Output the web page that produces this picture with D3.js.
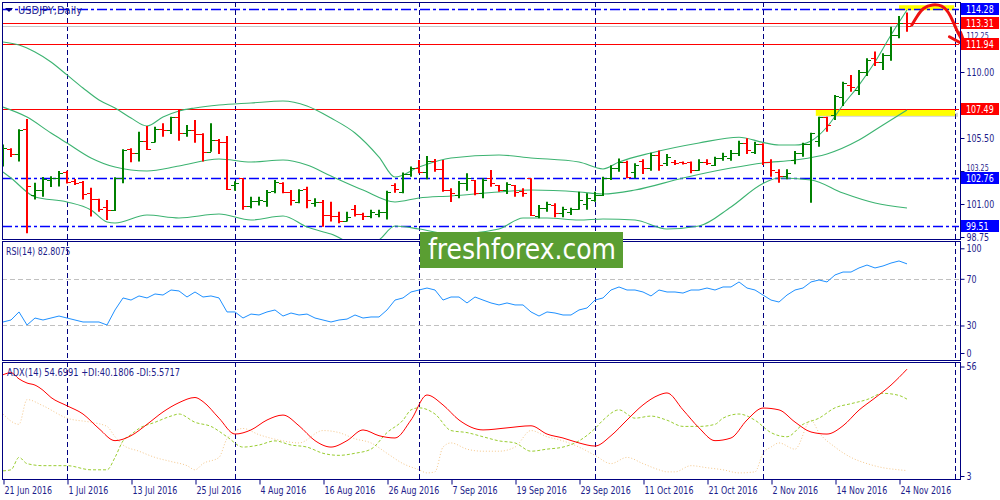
<!DOCTYPE html>
<html><head><meta charset="utf-8">
<script src="https://cdn.jsdelivr.net/npm/d3@7/dist/d3.min.js"></script>
<style>
body{margin:0;background:#fff;overflow:hidden}
svg{display:block}
text{font-family:"DejaVu Sans Condensed","DejaVu Sans","Liberation Sans",sans-serif;}
</style></head>
<body><svg id="chart" width="1000" height="500"></svg>
<script>
// ---------- DATA ----------
const symbolTitle = "USDJPY,Daily";
const opens  = [103.9,104.75,104.4,106.1,101.6,101.95,102.64,102.77,103.15,102.55,102.5,101.73,101.32,100.8,100.6,102.75,104.75,104.46,105.3,105.25,106.1,106.05,106.9,105.82,106.05,105.77,104.57,105.36,105.2,102.3,102.75,100.87,101.2,101.2,101.9,102.41,101.84,101.16,102.0,101.09,101.16,100.25,100.2,99.84,100.64,100.32,100.18,100.3,100.48,102.3,101.84,103.05,103.46,103.18,103.95,103.37,101.96,101.6,102.45,102.64,101.77,102.75,102.3,101.95,102.3,101.9,102.75,100.2,100.71,100.93,100.37,100.45,100.64,101.0,101.27,101.6,102.8,103.43,103.89,103.2,103.9,103.43,104.34,103.8,103.89,103.85,103.85,103.32,103.89,103.66,104.11,104.11,104.5,105.18,104.55,105.09,103.89,103.2,102.91,104.0,104.5,105.1,105.3,106.9,107.07,108.32,109.14,108.77,110.02,110.93,110.7,111.16,112.52,113.32];
const highs  = [105.05,104.8,106.1,106.8,102.45,102.84,102.9,103.25,103.27,102.7,102.57,102.1,101.36,101.27,102.82,104.73,104.8,105.93,106.32,106.27,106.5,106.95,107.47,106.39,106.73,105.82,106.5,105.43,105.64,102.55,102.75,101.5,101.5,101.96,102.64,102.48,101.96,102.0,102.18,101.39,101.27,101.16,100.48,100.48,100.93,100.41,100.6,100.6,101.9,102.41,103.14,103.55,104.0,104.27,104.07,104.0,102.07,102.57,103.09,102.64,102.75,103.32,102.3,102.48,102.3,102.07,102.75,100.93,101.16,101.05,100.82,100.75,101.84,101.73,101.84,102.86,103.64,104.11,103.95,103.78,104.05,104.5,104.64,104.41,104.0,103.9,103.89,104.05,104.05,104.23,104.5,104.68,105.32,105.48,105.25,105.14,104.05,103.37,103.37,104.61,105.18,105.86,106.95,106.95,108.43,109.34,109.8,110.14,110.93,111.39,111.27,113.09,113.82,114.05];
const lows   = [103.55,104.2,103.9,99.0,101.3,101.5,102.16,102.2,102.4,102.3,101.3,100.14,100.48,99.91,100.52,102.41,103.85,103.89,104.68,105.2,105.59,105.77,105.32,105.59,105.18,103.89,104.57,104.41,101.95,101.91,100.6,100.71,100.9,100.82,101.73,101.73,100.9,101.05,100.71,100.82,99.45,99.8,99.69,99.8,100.14,99.91,100.03,100.1,99.95,101.77,101.73,102.86,103.1,102.68,103.2,101.84,101.13,101.39,101.91,101.6,101.39,102.18,101.84,101.68,101.5,101.5,100.18,100.03,100.48,100.1,100.1,100.25,100.6,100.6,101.16,101.55,102.64,103.2,102.75,102.75,103.05,103.27,103.27,103.59,103.66,103.7,103.09,103.27,103.66,103.59,103.95,103.95,104.27,104.41,104.41,103.66,102.86,102.45,102.68,103.71,104.23,101.09,104.91,105.93,106.73,107.68,108.66,108.43,109.73,110.41,110.14,110.77,112.3,112.75];
const closes = [104.8,104.4,106.05,102.2,101.95,102.7,102.77,103.1,102.5,102.45,101.7,101.32,100.64,100.6,102.75,104.68,104.46,105.3,104.77,106.1,106.05,106.9,105.82,106.05,105.77,104.57,105.36,105.2,102.0,102.41,100.87,101.2,101.25,101.84,102.52,101.84,101.27,101.96,101.27,101.16,100.25,100.18,99.84,100.14,100.32,100.18,100.48,100.48,101.84,102.0,103.05,103.46,103.18,103.95,103.37,101.96,101.73,102.45,102.75,101.77,102.64,102.41,101.95,102.35,101.84,101.73,100.25,100.71,101.0,100.37,100.64,100.64,101.27,101.39,101.6,102.8,103.43,103.89,102.86,103.66,103.43,104.34,103.66,104.18,103.78,103.78,103.32,103.89,103.78,104.11,104.27,104.5,105.18,104.68,105.09,103.89,103.32,102.91,103.09,104.5,105.09,105.82,106.9,106.39,108.36,109.23,108.96,110.02,110.82,110.7,111.16,112.52,113.32,113.14];

// Bollinger Bands (20,2): [bar index, price]
const bbUpper  = [[0,112.05],[2,111.84],[4,111.36],[6,110.68],[8,109.8],[10,108.91],[12,108.09],[14,107.55],[16,106.86],[18,106.32],[20,106.93],[22,107.34],[24,107.55],[27,107.75],[31,107.89],[35,108.02],[38,107.68],[41,106.86],[44,105.84],[47,104.2],[49,102.84],[52,103.52],[56,104.14],[62,104.34],[66,104.14],[72,103.86],[75,103.39],[77,103.86],[81,104.48],[87,105.16],[92,105.55],[95,105.2],[97,105.02],[99,105.02],[101,105.3],[103,106.25],[105,107.75],[107,109.11],[109,110.68],[111,112.52],[113,114.23]];
const bbMiddle = [[0,107.61],[3,106.93],[6,105.84],[8,105.16],[11,104.14],[14,103.52],[18,103.25],[22,103.59],[27,104.07],[31,103.86],[35,104.0],[38,103.66],[41,102.91],[45,101.95],[49,101.14],[52,101.41],[56,101.55],[62,101.82],[66,101.95],[72,101.82],[75,101.68],[79,101.95],[85,102.77],[91,103.45],[95,103.8],[99,104.0],[103,104.41],[107,105.36],[110,106.39],[113,107.41]];
const bbLower  = [[0,103.18],[1,102.77],[4,101.48],[8,101.14],[11,100.59],[13,99.77],[14,99.7],[18,100.25],[22,100.05],[27,100.32],[31,99.91],[35,100.18],[38,99.43],[41,98.95],[45,98.07],[47,98.55],[49,99.5],[52,99.3],[56,98.95],[62,99.3],[65,100.05],[68,100.05],[72,99.91],[75,99.98],[79,99.91],[83,99.3],[87,99.5],[91,100.8],[95,102.4],[97,102.77],[101,102.64],[105,101.75],[109,101.07],[113,100.73]];

// RSI(14): [bar index, value]
const rsiValues = [[0,33],[1,34.7],[2,41.6],[3,30.4],[4,36.4],[5,34.7],[6,36.4],[7,38.1],[8,36.4],[9,34.7],[10,33],[11,33],[12,33],[13,30.4],[14,43.3],[15,53.6],[16,51.8],[17,55.3],[18,53.6],[19,57],[20,56.1],[21,60.4],[22,59.6],[23,54.4],[24,58.7],[25,54.4],[26,55.3],[27,53.6],[28,41.6],[29,41.6],[30,36.4],[31,39.8],[32,39],[33,41.6],[34,43.3],[35,38.1],[36,40.7],[37,39],[38,39.8],[39,36.4],[40,34.7],[41,33],[42,34.7],[43,35.5],[44,39],[45,36.4],[46,37.3],[47,37.3],[48,43.3],[49,51.8],[50,53.6],[51,58.7],[52,60.4],[53,62.1],[54,60.4],[55,51.8],[56,54.4],[57,54.4],[58,49.3],[59,54.4],[60,51.8],[61,49.3],[62,47.6],[63,49.3],[64,47.6],[65,47.6],[66,41.6],[67,38.1],[68,41.6],[69,40.7],[70,39],[71,39],[72,43.3],[73,45],[74,51.8],[75,53.6],[76,60.4],[77,63],[78,60.4],[79,60.4],[80,58.7],[81,55.3],[82,60.4],[83,58.7],[84,58.7],[85,57.8],[86,60.4],[87,60.4],[88,62.1],[89,60.4],[90,63],[91,63],[92,67.3],[93,62.1],[94,60.4],[95,56.1],[96,51.8],[97,50.1],[98,56.1],[99,60.4],[100,62.1],[101,67.3],[102,69],[103,67.3],[104,73.3],[105,75.8],[106,75.8],[107,79.3],[108,81.8],[109,79.3],[110,81],[111,83.5],[112,85.3],[113,82.8]];

// ADX(14), +DI, -DI: [bar index, value]
const adxValues = [[0,52],[1,53],[2,50],[3,48],[4,47],[5,44.5],[6,41],[8,37],[10,33],[12,25.9],[14,20.1],[16,22.5],[18,28],[20,34],[22,38.5],[24,41],[25,39],[27,31],[29,23.3],[31,25.3],[33,30.1],[35,32.5],[37,27.3],[39,20.1],[41,17],[43,20.1],[45,25.3],[47,22.5],[49,21.4],[51,30.1],[53,42.2],[55,37.4],[57,30.1],[60,25.3],[63,26.3],[66,27.3],[68,23.3],[70,21.4],[72,19],[74,17.5],[76,22.5],[78,30.1],[80,37.4],[82,42.2],[83,43.2],[85,35],[87,26.3],[89,20.1],[91,21.4],[93,30.1],[95,35.9],[97,35],[99,29.1],[101,24.3],[103,23.3],[105,27.3],[107,34.9],[109,40.8],[111,47],[113,54.7]];
const plusDI = [[0,5.5],[1,6],[2,12],[3,9],[5,8],[8,8],[11,6],[13,6],[14,12],[15,20],[16,23],[17,26],[19,29],[21,32],[22,33],[24,29],[26,27],[28,22],[30,17],[32,18],[34,20],[36,18],[38,17],[40,14],[42,13],[44,14],[46,16],[48,24],[50,30],[51,35],[52,36],[54,33],[56,25],[58,24],[60,22],[62,20],[64,19],[66,15],[68,16],[70,17],[72,20],[74,26],[75,30],[77,35],[79,31],[81,32],[83,30],[85,27],[87,27],[89,28],[90,31],[92,33],[94,30],[96,24],[98,22],[100,28],[102,31],[104,36],[106,38],[108,40],[110,43],[112,42],[113,40.2]];
const minusDI = [[0,33],[2,28],[3,40],[5,37],[8,31],[11,29],[13,27],[14,22],[15,18],[17,15],[19,12],[21,10],[23,8],[24,6],[25,9],[27,12],[28,21],[30,26],[32,23],[35,20],[37,19],[40,25],[42,24],[44,21],[46,19],[48,14],[50,9],[52,6],[53,4.5],[54,5],[55,17],[56,19],[58,16],[60,15],[62,15],[64,17],[66,25],[68,22],[70,20],[72,17],[74,13],[76,9],[78,12],[80,9],[82,6],[83,5],[84,5],[86,8],[88,7],[90,6],[92,4.5],[94,5],[95,14],[96,17],[97,19],[99,16],[101,30],[102,24],[104,17],[106,12],[108,9],[110,7],[112,6],[113,5.6]];

const tickBars   = [0,8,16,24,32,40,48,56,64,72,80,88,96,104,112];
const tickLabels = ["21 Jun 2016","1 Jul 2016","13 Jul 2016","25 Jul 2016","4 Aug 2016","16 Aug 2016","26 Aug 2016","7 Sep 2016","19 Sep 2016","29 Sep 2016","11 Oct 2016","21 Oct 2016","2 Nov 2016","14 Nov 2016","24 Nov 2016"];
const separatorBars = [8,29,52,74,95,119];
const priceTicks = [98.75,101.00,103.25,105.50,107.75,110.00,112.25,114.50];
const hiddenPriceLabels = [114.50,107.75];
const tuckedPriceLabels = [112.25,103.25];
const redLevels  = [113.31,111.94,107.49];
const blueLevels = [114.28,102.76,99.51];
const rsiTicks = [100,70,30,0];
const rsiLevels = [70,30];
const adxTicks = [56,3];
const rsiLabel = "RSI(14) 82.8075";
const adxLabel = "ADX(14) 54.6991 +DI:40.1806 -DI:5.5717";
const watermark = "freshforex.com";

// ---------- LAYOUT ----------
const svg = d3.select("#chart");
const L = 2, R = 960;
const main = {top:2, bottom:239};
const rsiP = {top:241, bottom:360};
const adxP = {top:362, bottom:479};
const navy = "#000080";
const txtCol = "#1c1c8a";
const fs = 10;

function squeeze(sel, k){ sel.each(function(){ const w=this.getComputedTextLength(); d3.select(this).attr("textLength",w*k).attr("lengthAdjust","spacingAndGlyphs"); }); }

const x = d3.scaleLinear().domain([0,119.375]).range([3,958]);
const y = d3.scaleLinear().domain([110,101]).range([72,204]);
const yR = d3.scaleLinear().domain([0,100]).range([360.5,243.8]);
const yA = d3.scaleLinear().domain([3,56]).range([476,366.5]);

const defs = svg.append("defs");
function clip(id, p){ defs.append("clipPath").attr("id",id).append("rect").attr("x",L+1).attr("y",p.top+1).attr("width",R-L-2).attr("height",p.bottom-p.top-1); }
clip("cm",main); clip("cr",rsiP); clip("ca",adxP);

// period separators
const sepG = svg.append("g");
[main,rsiP,adxP].forEach(p=>{
  sepG.selectAll(null).data(separatorBars).enter().append("line")
    .attr("x1",d=>Math.round(x(d))+0.5).attr("x2",d=>Math.round(x(d))+0.5)
    .attr("y1",p.top).attr("y2",p.bottom)
    .attr("stroke",navy).attr("stroke-width",1).attr("stroke-dasharray","5,3");
});

// ---------- MAIN PANEL ----------
const gm = svg.append("g").attr("clip-path","url(#cm)");
gm.append("rect").attr("x",x(101.6)+3).attr("y",y(107.49)+4).attr("width",x(119)-x(101.6)).attr("height",4).attr("fill","#888").attr("opacity",0.35);
gm.append("rect").attr("x",x(101.6)).attr("y",y(107.49)+1).attr("width",x(119)-x(101.6)).attr("height",6).attr("fill","#ffff00");
gm.append("rect").attr("x",x(112)).attr("y",y(114.28)-4).attr("width",x(118.9)-x(112)).attr("height",5).attr("fill","#ffff00");

const bidY = Math.round(y(closes[closes.length-1]))+0.5;
gm.append("line").attr("x1",L).attr("x2",R).attr("y1",bidY).attr("y2",bidY).attr("stroke","#c8c8c8").attr("stroke-width",1);

redLevels.forEach(v=>{
  gm.append("line").attr("x1",L).attr("x2",R).attr("y1",Math.round(y(v))+0.5).attr("y2",Math.round(y(v))+0.5)
    .attr("stroke","#ff0000").attr("stroke-width",1.2);
});
blueLevels.forEach(v=>{
  gm.append("line").attr("x1",L).attr("x2",R).attr("y1",Math.round(y(v))+0.5).attr("y2",Math.round(y(v))+0.5)
    .attr("stroke","#0000ff").attr("stroke-width",1.6).attr("stroke-dasharray","10,3,3,3");
});

const pline = d3.line().x(d=>x(d[0])).y(d=>y(d[1])).curve(d3.curveMonotoneX);
[bbUpper,bbMiddle,bbLower].forEach(s=>{
  gm.append("path").attr("d",pline(s)).attr("fill","none").attr("stroke","#3cb371").attr("stroke-width",1.1);
});

const bars = gm.append("g");
opens.forEach((o,i)=>{
  const c = closes[i], col = c>=o ? "#008000" : "#ff0000";
  const xi = Math.round(x(i));
  bars.append("line").attr("x1",xi).attr("x2",xi).attr("y1",y(highs[i])).attr("y2",y(lows[i]))
    .attr("stroke",col).attr("stroke-width",2);
  bars.append("line").attr("x1",xi-4).attr("x2",xi).attr("y1",Math.round(y(o))+0.5).attr("y2",Math.round(y(o))+0.5)
    .attr("stroke",col).attr("stroke-width",1);
  bars.append("line").attr("x1",xi).attr("x2",xi+4).attr("y1",Math.round(y(c))+0.5).attr("y2",Math.round(y(c))+0.5)
    .attr("stroke",col).attr("stroke-width",1);
});

// hand-drawn arrow
const arrow = [[113.6,113.2],[114.2,113.75],[115.0,114.4],[116.2,114.62],[117.4,114.55],[118.2,114.1],[118.8,113.4],[119.4,112.6],[120.2,111.9]];
svg.append("path").attr("d",d3.line().x(d=>x(d[0])).y(d=>y(d[1])).curve(d3.curveBasis)(arrow))
  .attr("fill","none").attr("stroke","#ee1111").attr("stroke-width",3).attr("stroke-linecap","round");
svg.append("path").attr("d",`M${x(118.3)},${y(112.4)} L${x(120.3)},${y(111.8)} L${x(119.7)},${y(112.7)}`)
  .attr("fill","none").attr("stroke","#ee1111").attr("stroke-width",3).attr("stroke-linecap","round").attr("stroke-linejoin","round");

svg.append("path").attr("d","M5,8 L13,8 L9,12 Z").attr("fill",navy);
svg.append("text").attr("x",18).attr("y",14).attr("font-size",fs+1).attr("fill",txtCol).text(symbolTitle);

// ---------- RSI PANEL ----------
const gr = svg.append("g").attr("clip-path","url(#cr)");
rsiLevels.forEach(v=>{
  gr.append("line").attr("x1",L).attr("x2",R).attr("y1",Math.round(yR(v))+0.5).attr("y2",Math.round(yR(v))+0.5)
    .attr("stroke","#c0c0c0").attr("stroke-dasharray","5,3");
});
gr.append("path").attr("d",d3.line().x(d=>x(d[0])).y(d=>yR(d[1]))(rsiValues))
  .attr("fill","none").attr("stroke","#1e90ff").attr("stroke-width",1);
svg.append("text").attr("x",6).attr("y",255).attr("font-size",fs).attr("fill",txtCol).text(rsiLabel).call(squeeze,0.88);

// ---------- ADX PANEL ----------
const ga = svg.append("g").attr("clip-path","url(#ca)");
const aline = d3.line().x(d=>x(d[0])).y(d=>yA(d[1])).curve(d3.curveMonotoneX);
ga.append("path").attr("d",aline(minusDI)).attr("fill","none").attr("stroke","#f5c88c").attr("stroke-width",1).attr("stroke-dasharray","1,2");
ga.append("path").attr("d",aline(plusDI)).attr("fill","none").attr("stroke","#9acd32").attr("stroke-width",1).attr("stroke-dasharray","3,2");
ga.append("path").attr("d",aline(adxValues)).attr("fill","none").attr("stroke","#ff0000").attr("stroke-width",1);
svg.append("text").attr("x",7).attr("y",376).attr("font-size",fs).attr("fill",txtCol).text(adxLabel).call(squeeze,0.92);

// ---------- FRAMES ----------
[main,rsiP,adxP].forEach(p=>{
  svg.append("rect").attr("x",L+0.5).attr("y",p.top+0.5).attr("width",R-L).attr("height",p.bottom-p.top)
    .attr("fill","none").attr("stroke",navy).attr("stroke-width",1);
});

// ---------- AXES ----------
function styleAxis(g){
  g.select(".domain").remove();
  g.selectAll("line").attr("stroke",navy);
  g.selectAll("text").attr("fill",txtCol).attr("font-size",fs).attr("font-family",null);
}
const pa = svg.append("g").attr("transform",`translate(${R+0.5},0)`)
  .call(d3.axisRight(y).tickValues(priceTicks).tickFormat(d3.format(".2f")).tickSize(4).tickPadding(2));
styleAxis(pa);
pa.selectAll(".tick").filter(d=>d>y.invert(main.top)).remove();
pa.selectAll(".tick").filter(d=>hiddenPriceLabels.includes(d)).select("text").remove();
pa.selectAll(".tick").filter(d=>tuckedPriceLabels.includes(d)).select("text")
  .attr("font-size",8).attr("dy",null).attr("y",-1);
pa.selectAll("text").call(squeeze,0.88);

function levelLabel(v,col){
  const yy = Math.round(y(v));
  svg.append("rect").attr("x",R+1).attr("y",yy-6).attr("width",38).attr("height",12).attr("fill",col);
  svg.append("text").attr("x",R+6).attr("y",yy+4).attr("font-size",fs).attr("fill","#fff").text(v.toFixed(2)).call(squeeze,0.88);
}
blueLevels.forEach(v=>levelLabel(v,"#0000ff"));
redLevels.forEach(v=>levelLabel(v,"#ff0000"));

const ra = svg.append("g").attr("transform",`translate(${R+0.5},0)`)
  .call(d3.axisRight(yR).tickValues(rsiTicks).tickSize(4).tickPadding(2));
styleAxis(ra);
ra.selectAll(".tick").filter(d=>d===100).attr("transform",`translate(0,${yR(100)+5})`);
ra.selectAll(".tick").filter(d=>d===0).attr("transform",`translate(0,${yR(0)-7})`);
ra.selectAll("text").call(squeeze,0.88);

const aa = svg.append("g").attr("transform",`translate(${R+0.5},0)`)
  .call(d3.axisRight(yA).tickValues(adxTicks).tickSize(4).tickPadding(2));
styleAxis(aa);
aa.selectAll("text").call(squeeze,0.88);

const ta = svg.append("g").attr("transform",`translate(0,${adxP.bottom+0.5})`)
  .call(d3.axisBottom(x).tickValues(tickBars).tickFormat((d,i)=>tickLabels[i]).tickSize(5).tickPadding(2));
styleAxis(ta);
ta.selectAll("line").attr("transform","translate(0.5,0)");
ta.selectAll("text").attr("text-anchor","start").attr("dx",1).call(squeeze,0.88);

// ---------- WATERMARK ----------
svg.append("rect").attr("x",420).attr("y",232).attr("width",203).attr("height",36).attr("fill","#5a9e32");
svg.append("text").attr("x",428).attr("y",259).attr("font-size",28)
  .attr("font-family","'Open Sans', Roboto, sans-serif").attr("fill","#fff").text(watermark)
  .attr("textLength",188).attr("lengthAdjust","spacingAndGlyphs");
</script>
</body></html>
